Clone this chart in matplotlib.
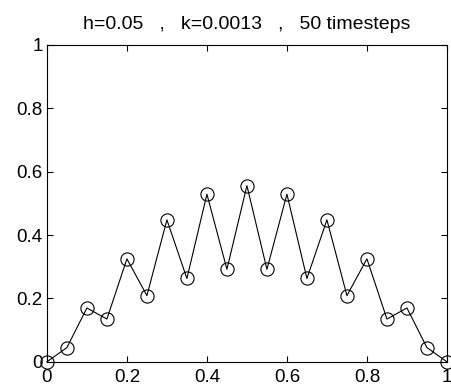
import numpy as np
import matplotlib.pyplot as plt

plt.rcParams['font.family'] = ['Liberation Sans', 'DejaVu Sans']

# grid points and solution after 50 steps
x = [0, 0.05, 0.1, 0.15, 0.2, 0.25, 0.3, 0.35, 0.4, 0.45, 0.5,
     0.55, 0.6, 0.65, 0.7, 0.75, 0.8, 0.85, 0.9, 0.95, 1.0]
u = [0, 0.045, 0.170, 0.135, 0.325, 0.209, 0.448, 0.263, 0.529, 0.292, 0.556,
     0.292, 0.529, 0.263, 0.448, 0.209, 0.325, 0.135, 0.170, 0.045, 0]

fig = plt.figure(figsize=(4.51, 3.87), dpi=100)
ax = fig.add_axes([0.104, 0.065, 0.887, 0.819])

ax.plot(x, u, '-', color='black', lw=0.8, clip_on=False)
ax.plot(x, u, 'o', mfc='none', mec='black', ms=9.5, mew=0.8, clip_on=False)

ax.set_xlim(0, 1)
ax.set_ylim(0, 1)
ax.set_xticks([0, 0.2, 0.4, 0.6, 0.8, 1])
ax.set_xticklabels(['0', '0.2', '0.4', '0.6', '0.8', '1'])
ax.set_yticks([0, 0.2, 0.4, 0.6, 0.8, 1])
ax.set_yticklabels(['0', '0.2', '0.4', '0.6', '0.8', '1'])
ax.tick_params(direction='in', top=True, right=True, length=4, width=0.8,
               labelsize=13.5)
ax.tick_params(axis='x', pad=5)
ax.tick_params(axis='y', pad=3)
for s in ax.spines.values():
    s.set_linewidth(0.8)

ax.set_title('h=0.05   ,   k=0.0013   ,   50 timesteps', fontsize=14, pad=11.5)

fig.savefig('out.png', dpi=100)
